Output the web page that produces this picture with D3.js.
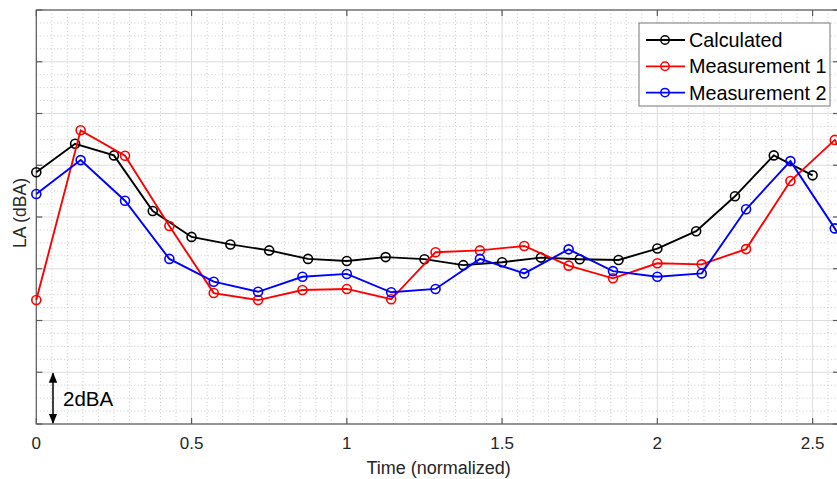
<!DOCTYPE html>
<html>
<head>
<meta charset="utf-8">
<script src="https://cdn.jsdelivr.net/npm/d3@7"></script>
<style>
  html, body { margin: 0; padding: 0; background: #fff; }
  svg { display: block; font-family: "Liberation Sans", Arial, sans-serif; }
</style>
</head>
<body>
<svg id="chart" width="837" height="479"></svg>
<script>
// ---- data (y in dBA, relative; x normalized time) ----
const calcX = [0, 0.125, 0.25, 0.375, 0.5, 0.625, 0.75, 0.875, 1, 1.125, 1.25, 1.375, 1.5, 1.625, 1.75, 1.875, 2, 2.125, 2.25, 2.375, 2.5];
const calcY = [9.73, 10.83, 10.38, 8.23, 7.23, 6.94, 6.71, 6.38, 6.30, 6.45, 6.37, 6.14, 6.25, 6.43, 6.37, 6.34, 6.78, 7.45, 8.80, 10.38, 9.61];
const measX = [0, 1/7, 2/7, 3/7, 4/7, 5/7, 6/7, 1, 8/7, 9/7, 10/7, 11/7, 12/7, 13/7, 2, 15/7, 16/7, 17/7, 18/7, 19/7];
const meas1Y = [4.79, 11.35, 10.37, 7.65, 5.06, 4.79, 5.18, 5.22, 4.82, 6.64, 6.71, 6.88, 6.12, 5.63, 6.21, 6.17, 6.76, 9.39, 10.98, 8.0];
const meas2Y = [8.89, 10.20, 8.63, 6.38, 5.50, 5.11, 5.69, 5.80, 5.09, 5.22, 6.38, 5.82, 6.75, 5.91, 5.69, 5.82, 8.30, 10.16, 7.56, 4.8];
const seriesNames = ["Calculated", "Measurement 1", "Measurement 2"];
const seriesColors = ["#000000", "#ff0000", "#0000ff"];
const xTicks = [0, 0.5, 1, 1.5, 2, 2.5];
const xTickLabels = ["0", "0.5", "1", "1.5", "2", "2.5"];
const yMajor = [0, 2, 4, 6, 8, 10, 12, 14, 16];

// ---- layout ----
const L = 36.3, R = 839, T = 10, B = 424;
const x = d3.scaleLinear().domain([0, 2.585]).range([L, R]);
const y = d3.scaleLinear().domain([0, 16]).range([B, T]);
const svg = d3.select("#chart");

// minor grid (dotted)
const g = svg.append("g");
const xMinor = d3.range(0, 2.6, 0.05).filter(v => Math.abs(v / 0.5 - Math.round(v / 0.5)) > 1e-6);
const yMinor = d3.range(0, 16.01, 0.5).filter(v => Math.abs(v / 2 - Math.round(v / 2)) > 1e-6);
g.selectAll(".vminor").data(xMinor).join("line")
  .attr("x1", d => x(d)).attr("x2", d => x(d)).attr("y1", T).attr("y2", B)
  .attr("stroke", "#c8c8c8").attr("stroke-width", 1).attr("stroke-dasharray", "1,2.5");
g.selectAll(".hminor").data(yMinor).join("line")
  .attr("x1", L).attr("x2", R).attr("y1", d => y(d)).attr("y2", d => y(d))
  .attr("stroke", "#c8c8c8").attr("stroke-width", 1).attr("stroke-dasharray", "1,2.5");
// major grid
g.selectAll(".vmajor").data(xTicks).join("line")
  .attr("x1", d => x(d)).attr("x2", d => x(d)).attr("y1", T).attr("y2", B)
  .attr("stroke", "#dcdcdc").attr("stroke-width", 1);
g.selectAll(".hmajor").data(yMajor).join("line")
  .attr("x1", L).attr("x2", R).attr("y1", d => y(d)).attr("y2", d => y(d))
  .attr("stroke", "#dcdcdc").attr("stroke-width", 1);

// axes box and ticks
const axisColor = "#5a5a5a";
svg.append("rect").attr("x", L).attr("y", T).attr("width", R - L).attr("height", B - T)
  .attr("fill", "none").attr("stroke", axisColor).attr("stroke-width", 1.2);
const tl = 6;
svg.selectAll(".xtb").data(xTicks).join("line")
  .attr("x1", d => x(d)).attr("x2", d => x(d)).attr("y1", B).attr("y2", B - tl)
  .attr("stroke", axisColor).attr("stroke-width", 1.2);
svg.selectAll(".xtt").data(xTicks).join("line")
  .attr("x1", d => x(d)).attr("x2", d => x(d)).attr("y1", T).attr("y2", T + tl)
  .attr("stroke", axisColor).attr("stroke-width", 1.2);
svg.selectAll(".ytl").data(yMajor).join("line")
  .attr("x1", L).attr("x2", L + tl).attr("y1", d => y(d)).attr("y2", d => y(d))
  .attr("stroke", axisColor).attr("stroke-width", 1.2);
svg.selectAll(".ytr").data(yMajor).join("line")
  .attr("x1", R).attr("x2", R - tl).attr("y1", d => y(d)).attr("y2", d => y(d))
  .attr("stroke", axisColor).attr("stroke-width", 1.2);

// tick labels
svg.selectAll(".xlab").data(xTicks).join("text")
  .attr("x", d => x(d)).attr("y", 449).attr("text-anchor", "middle")
  .attr("font-size", 17).attr("fill", "#262626")
  .text((d, i) => xTickLabels[i]);

// axis titles
svg.append("text").attr("x", (L + R) / 2 + 1).attr("y", 474).attr("text-anchor", "middle")
  .attr("font-size", 18).attr("fill", "#262626").text("Time (normalized)");
svg.append("text").attr("transform", `translate(26,${(T + B) / 2 - 4}) rotate(-90)`)
  .attr("text-anchor", "middle").attr("font-size", 17.5).attr("fill", "#262626").text("LA (dBA)");

// data series
const series = [
  { xs: calcX, ys: calcY },
  { xs: measX, ys: meas1Y },
  { xs: measX, ys: meas2Y }
];
const line = d3.line().x(d => x(d[0])).y(d => y(d[1]));
series.forEach((s, i) => {
  const pts = s.xs.map((v, j) => [v, s.ys[j]]);
  const sg = svg.append("g");
  sg.append("path").attr("d", line(pts)).attr("fill", "none")
    .attr("stroke", seriesColors[i]).attr("stroke-width", 1.9);
  sg.selectAll("circle").data(pts).join("circle")
    .attr("cx", d => x(d[0])).attr("cy", d => y(d[1])).attr("r", 4.5)
    .attr("fill", "none").attr("stroke", seriesColors[i]).attr("stroke-width", 1.6);
});

// 2dBA scale arrow
const ax = 53;
svg.append("defs").append("marker").attr("id", "ah").attr("viewBox", "0 0 10 10")
  .attr("refX", 9).attr("refY", 5).attr("markerWidth", 7).attr("markerHeight", 7)
  .attr("orient", "auto-start-reverse").append("path").attr("d", "M0,1 L10,5 L0,9 Z").attr("fill", "#000");
svg.append("line").attr("x1", ax).attr("x2", ax).attr("y1", y(2) + 1).attr("y2", y(0) - 1)
  .attr("stroke", "#000").attr("stroke-width", 1.5)
  .attr("marker-start", "url(#ah)").attr("marker-end", "url(#ah)");
svg.append("text").attr("x", 63).attr("y", 406).attr("font-size", 20.5).attr("fill", "#000").text("2dBA");

// legend
const lg = svg.append("g");
lg.append("rect").attr("x", 639).attr("y", 23).attr("width", 191).attr("height", 83)
  .attr("fill", "#fff").attr("stroke", "#777").attr("stroke-width", 1);
seriesNames.forEach((name, i) => {
  const cy = 40 + i * 26.3;
  lg.append("line").attr("x1", 646).attr("x2", 685).attr("y1", cy).attr("y2", cy)
    .attr("stroke", seriesColors[i]).attr("stroke-width", 1.8);
  lg.append("circle").attr("cx", 665).attr("cy", cy).attr("r", 4.2)
    .attr("fill", "none").attr("stroke", seriesColors[i]).attr("stroke-width", 1.5);
  lg.append("text").attr("x", 689).attr("y", cy + 7).attr("font-size", 19.8)
    .attr("fill", "#000").text(name);
});
</script>
</body>
</html>
